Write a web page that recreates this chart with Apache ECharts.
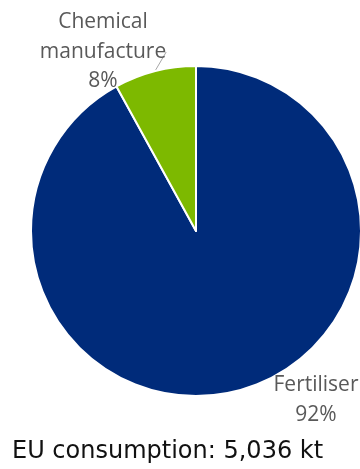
<!DOCTYPE html>
<html><head><meta charset="utf-8">
<script src="https://cdn.jsdelivr.net/npm/echarts@6/dist/echarts.min.js"></script>
<style>html,body{margin:0;padding:0;background:#fff}#c{width:360px;height:469px}</style>
</head><body><div id="c"></div>
<script>
const categories = ['Fertiliser', 'Chemical\nmanufacture'];
const shares = [92, 8];
const totalLabel = 'EU consumption: 5,036 kt';
const colors = ['#002b7a', '#7db900'];

const labelPos = [{x: 316, y: 400}, {x: 103, y: 52}];

const chart = echarts.init(document.getElementById('c'), null, {renderer: 'canvas'});
chart.setOption({
  animation: false,
  graphic: [{
    type: 'text', left: 12, top: 440,
    style: {text: totalLabel, font: '24px "DejaVu Sans"', fill: '#111'}
  }],
  series: [{
    type: 'pie',
    center: [196, 231],
    radius: 165,
    startAngle: 90,
    clockwise: true,
    itemStyle: {borderColor: '#fff', borderWidth: 2},
    data: categories.map((c, i) => ({
      name: c, value: shares[i],
      itemStyle: {color: colors[i]},
      labelLine: {show: i === 1}
    })),
    label: {
      formatter: p => p.name + '\n' + p.value + '%',
      fontFamily: 'Open Sans', fontSize: 21, color: '#595959',
      lineHeight: 29.5, align: 'center'
    },
    labelLine: {lineStyle: {color: '#a6a6a6', width: 1}, length: 6, length2: 6, smooth: true},
    labelLayout: p => ({x: labelPos[p.dataIndex].x, y: labelPos[p.dataIndex].y, align: 'center', verticalAlign: 'middle'})
  }]
});
</script></body></html>
